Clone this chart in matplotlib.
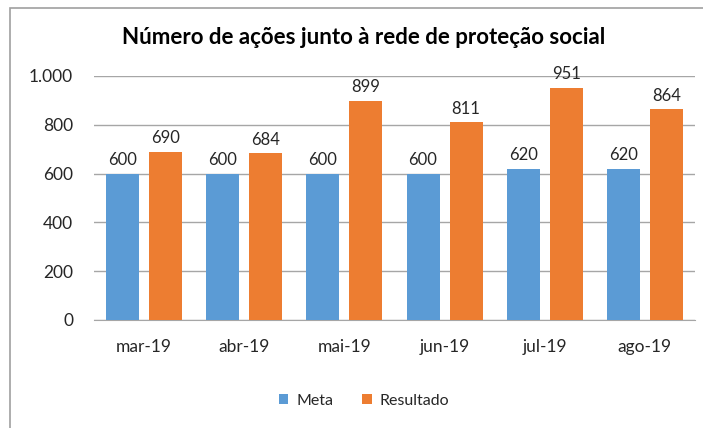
import matplotlib.pyplot as plt
import numpy as np
from matplotlib.patches import Rectangle

months = ["mar-19", "abr-19", "mai-19", "jun-19", "jul-19", "ago-19"]
meta = [600, 600, 600, 600, 620, 620]
resultado = [690, 684, 899, 811, 951, 864]
yticks = [0, 200, 400, 600, 800, 1000]
ytick_labels = ["0", "200", "400", "600", "800", "1.000"]

plt.rcParams["font.family"] = ["Lato", "DejaVu Sans"]

fig = plt.figure(figsize=(7.03, 4.28), dpi=100)
W, H = 703, 428
ax = fig.add_axes([94 / W, 1 - 320 / H, 601 / W, 244 / H])

x = np.arange(len(months))
bw = 0.33
b1 = ax.bar(x - 0.215, meta, bw, color="#5B9BD5", label="Meta", zorder=3)
b2 = ax.bar(x + 0.215, resultado, bw, color="#ED7D31", label="Resultado", zorder=3)
ax.bar_label(b1, padding=4, fontsize=12, color="#262626")
ax.bar_label(b2, padding=4, fontsize=12, color="#262626")

ax.set_xlim(-0.5, len(months) - 0.5)
ax.set_ylim(0, 1000)
ax.set_yticks(yticks)
ax.set_yticklabels(ytick_labels)
ax.set_xticks(x)
ax.set_xticklabels(months)
ax.tick_params(axis="both", length=0, labelsize=12.5, colors="#262626")
ax.tick_params(axis="y", pad=15)
ax.tick_params(axis="x", pad=14)
ax.grid(axis="y", color="#A6A6A6", linewidth=1, zorder=0)
for s in ["top", "right", "left"]:
    ax.spines[s].set_visible(False)
ax.spines["bottom"].set_color("#A6A6A6")

fig.text(364 / W, 1 - 38 / H, "Número de ações junto à rede de proteção social",
         ha="center", va="center", fontsize=16, fontweight="bold", color="#000000")

fig.legend(loc="center", bbox_to_anchor=(364 / W, 1 - 401 / H), ncol=2, frameon=False,
           fontsize=11.5, handlelength=0.6, handleheight=0.6, columnspacing=1.8,
           handletextpad=0.5, labelcolor="#262626")

fig.add_artist(Rectangle((10 / W, -0.1), 1.0, 1 - 8 / H + 0.1, transform=fig.transFigure,
                         fill=False, edgecolor="#A0A0A0", linewidth=1.2))

fig.savefig("out.png", dpi=100)
